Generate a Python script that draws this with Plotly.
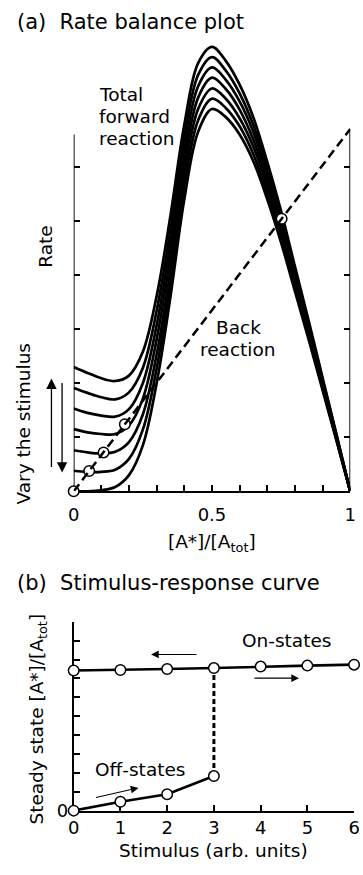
import plotly.graph_objects as go

# ---------------- data ----------------
# Panel (a): rate balance plot, x = [A*]/[A_tot]
XGRID = [0.00, 0.05, 0.10, 0.15, 0.20, 0.25, 0.30, 0.35, 0.40, 0.45, 0.50,
         0.55, 0.60, 0.65, 0.70, 0.75, 0.80, 0.85, 0.90, 0.95, 1.00]
FWD_S0 = [0, 0, 0.02, 0.08, 0.30, 0.85, 2.00, 3.60, 5.40, 6.65, 7.07, 6.92, 6.60, 6.10, 5.40, 4.60, 3.70, 2.80, 1.87, 0.94, 0]
FWD_S1 = [0.38, 0.36, 0.36, 0.40, 0.60, 1.14, 2.27, 3.85, 5.63, 6.86, 7.26, 7.09, 6.75, 6.23, 5.51, 4.70, 3.78, 2.86, 1.91, 0.96, 0]
FWD_S2 = [0.76, 0.72, 0.70, 0.73, 0.91, 1.42, 2.53, 4.09, 5.86, 7.07, 7.45, 7.26, 6.90, 6.37, 5.63, 4.79, 3.85, 2.91, 1.95, 0.98, 0]
FWD_S3 = [1.15, 1.09, 1.06, 1.06, 1.22, 1.71, 2.81, 4.35, 6.09, 7.28, 7.65, 7.44, 7.06, 6.50, 5.75, 4.89, 3.93, 2.97, 1.99, 1.00, 0]
FWD_S4 = [1.53, 1.45, 1.40, 1.38, 1.52, 2.00, 3.07, 4.60, 6.32, 7.49, 7.84, 7.61, 7.21, 6.64, 5.86, 4.98, 4.01, 3.03, 2.02, 1.02, 0]
FWD_S5 = [1.91, 1.82, 1.74, 1.70, 1.83, 2.28, 3.34, 4.84, 6.55, 7.70, 8.03, 7.78, 7.36, 6.77, 5.97, 5.08, 4.08, 3.09, 2.06, 1.04, 0]
FWD_S6 = [2.30, 2.19, 2.09, 2.04, 2.14, 2.58, 3.61, 5.10, 6.78, 7.92, 8.22, 7.96, 7.52, 6.91, 6.09, 5.18, 4.16, 3.15, 2.10, 1.06, 0]
FORWARD_CURVES = [FWD_S0, FWD_S1, FWD_S2, FWD_S3, FWD_S4, FWD_S5, FWD_S6]

BACK_X = [0, 1]
BACK_Y = [0, 6.7]

STEADY_A_X = [0, 0.056, 0.108, 0.185, 0.752]
STEADY_A_Y = [0, 0.375, 0.72, 1.24, 5.04]

A_XTICKS = [0, 0.1, 0.2, 0.3, 0.4, 0.5, 0.6, 0.7, 0.8, 0.9, 1.0]
A_XTICKTEXT = ["0", "", "", "", "", "0.5", "", "", "", "", "1"]
A_YTICKS = [1, 2, 3, 4, 5, 6]

# Panel (b): stimulus-response curve
STIM_ON = [0, 1, 2, 3, 4, 5, 6]
ON_STATES = [0.742, 0.745, 0.750, 0.755, 0.763, 0.768, 0.773]
STIM_OFF = [0, 1, 2, 3]
OFF_STATES = [0, 0.047, 0.087, 0.183]
JUMP_STIM = 3

B_XTICKS = [0, 1, 2, 3, 4, 5, 6]
B_YTICKS = [0, 0.1, 0.2, 0.3, 0.4, 0.5, 0.6, 0.7, 0.8, 0.9, 1.0]
B_YTICKTEXT = ["0", "", "", "", "", "", "", "", "", "", ""]

# ---------------- layout helpers ----------------
W, H = 363, 875
FONT = "DejaVu Sans"


def px(x):
    return x / W


def py(y):
    return 1 - y / H


A_LEFT_TOP = 6.6
A_RIGHT_TOP = 6.7
A_YMAX = (497 - 40) / 54.7

fig = go.Figure()

for curve in FORWARD_CURVES:
    fig.add_trace(go.Scatter(x=XGRID, y=curve, mode="lines", xaxis="x", yaxis="y",
                             line=dict(color="black", width=2.7, shape="spline"),
                             hoverinfo="skip"))

fig.add_trace(go.Scatter(x=BACK_X, y=BACK_Y, mode="lines", xaxis="x", yaxis="y3",
                         line=dict(color="black", width=2.5, dash="9px,5px"),
                         hoverinfo="skip"))

fig.add_trace(go.Scatter(x=STEADY_A_X, y=STEADY_A_Y, mode="markers", xaxis="x", yaxis="y",
                         marker=dict(size=10.5, color="white", line=dict(color="black", width=1.5)),
                         cliponaxis=False, hoverinfo="skip"))

# panel (b)
fig.add_trace(go.Scatter(x=[JUMP_STIM, JUMP_STIM],
                         y=[OFF_STATES[STIM_OFF.index(JUMP_STIM)], ON_STATES[STIM_ON.index(JUMP_STIM)]],
                         mode="lines", xaxis="x2", yaxis="y2",
                         line=dict(color="black", width=3, dash="5px,3px"), hoverinfo="skip"))
fig.add_trace(go.Scatter(x=STIM_ON, y=ON_STATES, mode="lines+markers", xaxis="x2", yaxis="y2",
                         line=dict(color="black", width=2.6),
                         marker=dict(size=10.5, color="white", line=dict(color="black", width=1.5)),
                         cliponaxis=False, hoverinfo="skip"))
fig.add_trace(go.Scatter(x=STIM_OFF, y=OFF_STATES, mode="lines+markers", xaxis="x2", yaxis="y2",
                         line=dict(color="black", width=2.6),
                         marker=dict(size=10.5, color="white", line=dict(color="black", width=1.5)),
                         cliponaxis=False, hoverinfo="skip"))

axis_common = dict(showgrid=False, zeroline=False, ticks="inside", ticklen=6, tickwidth=1.5,
                   tickcolor="black", linecolor="black", linewidth=1.8, layer="below traces",
                   ticklabeloverflow="allow",
                   tickfont=dict(family=FONT, size=18, color="black"), fixedrange=True)

annotations = []


def label(text, x, y, size=18.5, xanchor="center", angle=0):
    annotations.append(dict(text=text, x=px(x), y=py(y), xref="paper", yref="paper",
                            showarrow=False, xanchor=xanchor, yanchor="middle", textangle=angle,
                            font=dict(family=FONT, size=size, color="black")))


def arrow(x_head, y_head, x_tail, y_tail, width=1.3, size=1.6):
    annotations.append(dict(text="", x=px(x_head), y=py(y_head), xref="paper", yref="paper",
                            ax=x_tail - x_head, ay=y_tail - y_head, axref="pixel", ayref="pixel",
                            showarrow=True, arrowhead=2, arrowwidth=width, arrowsize=size,
                            arrowcolor="black"))


label("(a)\u00a0\u00a0Rate balance plot", 9, 22, size=21, xanchor="left")
label("Total", 94, 96, xanchor="left")
label("forward", 94, 118, xanchor="left")
label("reaction", 94, 140, xanchor="left")
label("Back", 240, 331)
label("reaction", 240, 354)
label("Rate", 40, 250, angle=-90)
label("Vary the stimulus", 18, 428, angle=-90)
label("[A*]/[A<sub>tot</sub>]", 213, 549)

label("(b)\u00a0\u00a0Stimulus-response curve", 9, 590, size=21, xanchor="left")
label("On-states", 290, 648)
label("Off-states", 139, 778)
label("Steady state [A*]/[A<sub>tot</sub>]", 33, 727, angle=-90)
label("Stimulus (arb. units)", 215, 860)

arrow(47, 383, 47, 473)
arrow(58, 478, 58, 387)
arrow(150, 662, 197, 662, width=1.1, size=1.4)
arrow(303, 686, 257, 686, width=1.1, size=1.4)
arrow(137, 797, 93, 807, width=1.1, size=1.4)

shapes = [
    dict(type="line", xref="x", yref="y", x0=0, x1=0, y0=0, y1=A_LEFT_TOP,
         line=dict(color="black", width=1.8), layer="below"),
    dict(type="line", xref="x", yref="y", x0=1, x1=1, y0=0, y1=A_RIGHT_TOP,
         line=dict(color="black", width=1.8), layer="below"),
]

fig.update_layout(
    width=W, height=H, margin=dict(l=0, r=0, t=0, b=0),
    paper_bgcolor="white", plot_bgcolor="rgba(0,0,0,0)",
    showlegend=False,
    font=dict(family=FONT, color="black"),
    xaxis=dict(domain=[px(70), px(356)], range=[0, 1], anchor="y",
               tickvals=A_XTICKS, ticktext=A_XTICKTEXT, showline=True,
               ticklabelstandoff=6, **axis_common),
    yaxis=dict(domain=[py(497), py(40)], range=[0, A_YMAX], anchor="x",
               tickvals=A_YTICKS, showticklabels=False, showline=False, **axis_common),
    yaxis3=dict(overlaying="y", side="right", anchor="x", range=[0, A_YMAX],
                tickvals=A_YTICKS, showticklabels=False, showline=False, **axis_common),
    xaxis2=dict(domain=[px(70), px(360)], range=[0, 6], anchor="y2",
                tickvals=B_XTICKS, showline=True, **axis_common),
    yaxis2=dict(domain=[py(820), py(629)], range=[0, 1], anchor="x2",
                tickvals=B_YTICKS, ticktext=B_YTICKTEXT, showline=True, **axis_common),
    annotations=annotations,
    shapes=shapes,
)

fig.write_html("out.html", config={"displayModeBar": False},
               post_script="document.body.style.margin='0px';document.body.style.overflow='hidden';")
